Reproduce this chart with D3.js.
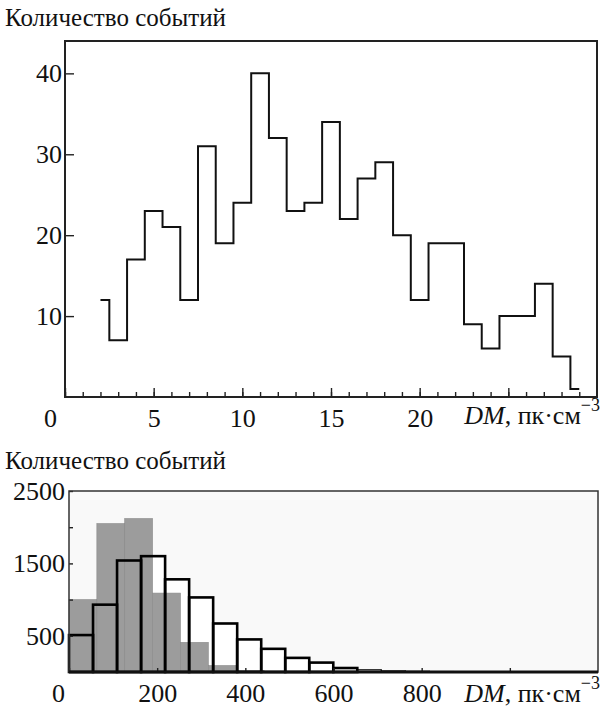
<!DOCTYPE html>
<html>
<head>
<meta charset="utf-8">
<script src="https://cdn.jsdelivr.net/npm/d3@7"></script>
<style>
  body { margin: 0; background: #fff; }
  svg text { font-family: "Liberation Serif", "Tinos", "Noto Serif", "DejaVu Serif", "FreeSerif", "Nimbus Roman", "Nimbus Roman No9 L", "Times", serif !important; fill: #111; }
</style>
</head>
<body>
<div id="chart"></div>
<script>
// top panel: number of events vs DM (step histogram)
const topDM = [2, 3, 4, 5, 6, 7, 8, 9, 10, 11, 12, 13, 14, 15, 16, 17, 18, 19, 20, 21, 22, 23, 24, 25, 26, 27, 28, 29];
const topCounts = [12, 7, 17, 23, 21, 12, 31, 19, 24, 40, 32, 23, 24, 34, 22, 27, 29, 20, 12, 19, 19, 9, 6, 10, 10, 14, 5, 1];
const topXLabels = [0, 5, 10, 15, 20];
const topYLabels = [10, 20, 30, 40];

// bottom panel: two histograms over DM
const outlineBinWidth = 54.5;
const outlineCounts = [510, 930, 1540, 1600, 1280, 1030, 670, 450, 320, 195, 130, 55, 30, 15, 10, 6, 4, 3, 2, 1];
const grayBinWidth = 63.2;
const grayCounts = [1000, 2050, 2120, 1090, 410, 90, 20];
const botXLabels = [0, 200, 400, 600, 800];
const botYLabels = [500, 1500, 2500];

const yTitle = "Количество событий";

const svg = d3.select("#chart")
  .append("svg")
  .attr("width", 610)
  .attr("height", 710);

function dmLabel(g, x, y) {
  const t = g.append("text")
    .attr("x", x)
    .attr("y", y)
    .attr("text-anchor", "end")
    .style("font-size", "26px");
  t.append("tspan").style("font-style", "italic").text("DM");
  t.append("tspan").text(", пк·см");
  t.append("tspan").attr("dy", -13).style("font-size", "18px").text("−3");
}

// ---------- top chart ----------
{
  const m = { left: 65, top: 41 };
  const width = 532, height = 356;
  const g = svg.append("g").attr("transform", `translate(${m.left},${m.top})`);

  const x = d3.scaleLinear().domain([0, 30]).range([0, width]);
  const y = d3.scaleLinear().domain([0, 44]).range([height, 0]);

  svg.append("text")
    .attr("x", 5).attr("y", 26)
    .style("font-size", "25px")
    .text(yTitle);

  // minor x ticks
  g.append("g")
    .attr("transform", `translate(0,${height})`)
    .call(d3.axisBottom(x).tickValues(d3.range(0, 30)).tickSizeInner(-5).tickSizeOuter(0).tickFormat(""))
    .call(a => a.select(".domain").remove());

  // major x ticks + labels
  g.append("g")
    .attr("transform", `translate(0,${height})`)
    .call(d3.axisBottom(x).tickValues([0, 5, 10, 15, 20, 25]).tickSizeInner(-9).tickSizeOuter(0).tickPadding(12)
      .tickFormat(d => topXLabels.includes(d) ? d : ""))
    .call(a => a.select(".domain").remove())
    .call(a => a.selectAll("text").style("font-size", "26px").attr("dy", "0.71em"))
    .call(a => a.selectAll(".tick").filter(d => d === 0).select("text").attr("dx", -15));

  g.append("g")
    .call(d3.axisLeft(y).tickValues(topYLabels).tickSizeInner(-9).tickSizeOuter(0).tickPadding(3))
    .call(a => a.select(".domain").remove())
    .call(a => a.selectAll("text").style("font-size", "26px"));

  g.selectAll(".tick line").attr("stroke", "#222").attr("stroke-width", 1.4);

  g.append("rect")
    .attr("width", width).attr("height", height)
    .attr("fill", "none").attr("stroke", "#222").attr("stroke-width", 2);

  const line = d3.line()
    .x((d, i) => x(topDM[i]))
    .y(d => y(d))
    .curve(d3.curveStep);

  g.append("path")
    .datum(topCounts)
    .attr("d", line)
    .attr("fill", "none")
    .attr("stroke", "#111")
    .attr("stroke-width", 2);

  dmLabel(svg, 600, 424);
}

// ---------- bottom chart ----------
{
  const m = { left: 69, top: 491 };
  const width = 529, height = 181;
  const g = svg.append("g").attr("transform", `translate(${m.left},${m.top})`);

  const x = d3.scaleLinear().domain([0, 1200]).range([0, width]);
  const y = d3.scaleLinear().domain([0, 2500]).range([height, 0]);

  svg.append("text")
    .attr("x", 5).attr("y", 469)
    .style("font-size", "25px")
    .text(yTitle);

  g.append("rect")
    .attr("width", width).attr("height", height)
    .attr("fill", "#f9f9f9");

  // outlined bars, white inside
  g.append("g").selectAll("rect")
    .data(outlineCounts)
    .join("rect")
    .attr("x", (d, i) => x(i * outlineBinWidth))
    .attr("y", d => y(d))
    .attr("width", x(outlineBinWidth) - x(0))
    .attr("height", d => y(0) - y(d))
    .attr("fill", "#fff");

  // gray bars
  g.append("g").selectAll("rect")
    .data(grayCounts)
    .join("rect")
    .attr("x", (d, i) => x(i * grayBinWidth))
    .attr("y", d => y(d))
    .attr("width", x(grayBinWidth) - x(0))
    .attr("height", d => y(0) - y(d))
    .attr("fill", "#9c9c9c")
    .attr("stroke", "#8a8a8a")
    .attr("stroke-width", 0.6);

  // outlines on top
  g.append("g").selectAll("rect")
    .data(outlineCounts)
    .join("rect")
    .attr("x", (d, i) => x(i * outlineBinWidth))
    .attr("y", d => y(d))
    .attr("width", x(outlineBinWidth) - x(0))
    .attr("height", d => y(0) - y(d))
    .attr("fill", "none")
    .attr("stroke", "#000")
    .attr("stroke-width", d => d > 40 ? 2.6 : 1.2);

  g.append("g")
    .attr("transform", `translate(0,${height})`)
    .call(d3.axisBottom(x).tickValues([0, 200, 400, 600, 800, 1000]).tickSizeInner(-4).tickSizeOuter(0).tickPadding(12)
      .tickFormat(d => botXLabels.includes(d) ? d : ""))
    .call(a => a.select(".domain").remove())
    .call(a => a.selectAll("text").style("font-size", "26px").attr("dy", "0.71em"))
    .call(a => a.selectAll(".tick").filter(d => d === 0).select("text").attr("dx", -11));

  g.append("g")
    .call(d3.axisLeft(y).tickValues([500, 1000, 1500, 2000, 2500]).tickSizeInner(-4).tickSizeOuter(0).tickPadding(4)
      .tickFormat(d => botYLabels.includes(d) ? d : ""))
    .call(a => a.select(".domain").remove())
    .call(a => a.selectAll("text").style("font-size", "26px"));

  g.selectAll(".tick line").attr("stroke", "#222").attr("stroke-width", 1.4);

  g.append("rect")
    .attr("width", width).attr("height", height)
    .attr("fill", "none").attr("stroke", "#333").attr("stroke-width", 1.5);

  g.append("line")
    .attr("x1", 0).attr("x2", width)
    .attr("y1", height).attr("y2", height)
    .attr("stroke", "#111").attr("stroke-width", 3);

  dmLabel(svg, 600, 702);
}
</script>
</body>
</html>
